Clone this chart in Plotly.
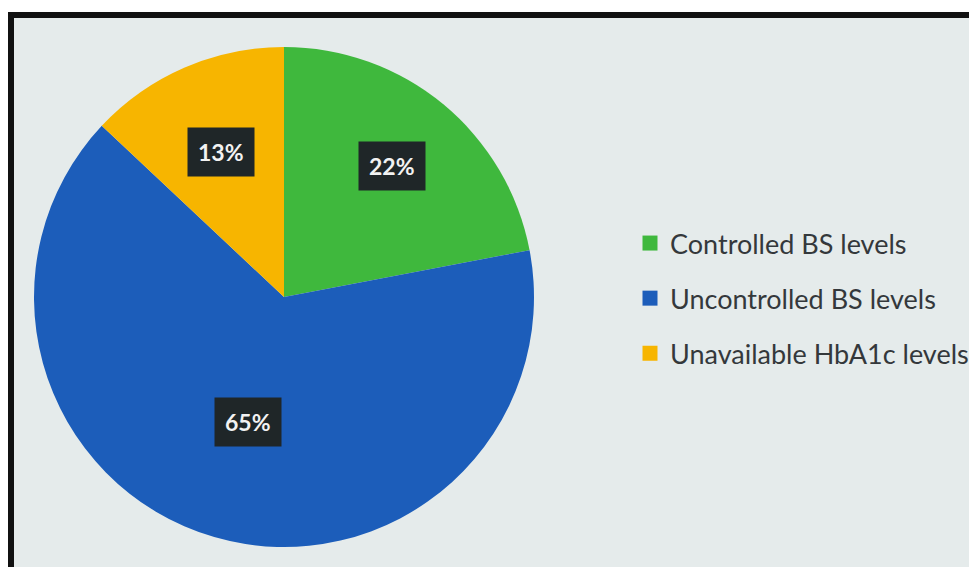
import math
import plotly.graph_objects as go

categories = ["Controlled BS levels", "Uncontrolled BS levels", "Unavailable HbA1c levels"]
values = [22, 65, 13]
colors = ["#3fb83d", "#1c5dba", "#f7b500"]
label_radius = [0.68, 0.52, 0.63]

W, H = 977, 567
OFF = 8  # page body margin offset
def px(x):
    return (x - OFF) / W
def py(y):
    return 1 - (y - OFF) / H

# pie geometry (screen pixels)
cx, cy, R = 284, 297, 250

fig = go.Figure()
fig.add_trace(go.Pie(
    labels=categories, values=values, sort=False, direction="clockwise",
    rotation=0, marker=dict(colors=colors, line=dict(width=0)),
    textinfo="none", hoverinfo="label+percent", showlegend=False,
    domain=dict(x=[px(cx - R), px(cx + R)], y=[py(cy + R), py(cy - R)]),
))

# legend entries via invisible scatter traces
for i, (c, col) in enumerate(zip(categories, colors)):
    fig.add_trace(go.Scatter(
        x=[None], y=[None], mode="markers", name=c, legendgroup=f"g{i}",
        marker=dict(symbol="square", size=15, color=col),
    ))

# data labels in dark boxes
total = sum(values)
cum = 0
for v, f in zip(values, label_radius):
    mid = (cum + v / 2) / total * 2 * math.pi
    cum += v
    lx = cx + f * R * math.sin(mid)
    ly = cy - f * R * math.cos(mid)
    fig.add_annotation(
        x=px(lx), y=py(ly), xref="paper", yref="paper",
        xanchor="center", yanchor="middle",
        text=f"<b>{round(v / total * 100)}%</b>", showarrow=False,
        font=dict(family="Lato, Open Sans, sans-serif", size=23, color="#f2f2f2"),
        bgcolor="#1f2628", borderpad=10,
    )

shapes = [
    dict(type="rect", xref="paper", yref="paper", x0=px(14), x1=1, y0=0, y1=py(18),
         fillcolor="#e5ebeb", line=dict(width=0), layer="below"),
    dict(type="rect", xref="paper", yref="paper", x0=px(8), x1=1, y0=py(18), y1=py(12),
         fillcolor="#111111", line=dict(width=0), layer="below"),
    dict(type="rect", xref="paper", yref="paper", x0=px(8), x1=px(14), y0=0, y1=py(12),
         fillcolor="#111111", line=dict(width=0), layer="below"),
]

fig.update_layout(
    width=W, height=H, margin=dict(l=0, r=0, t=0, b=0),
    paper_bgcolor="white", plot_bgcolor="rgba(0,0,0,0)",
    shapes=shapes,
    xaxis=dict(visible=False), yaxis=dict(visible=False),
    legend=dict(
        x=px(630), y=py(219), xanchor="left", yanchor="top",
        font=dict(family="Lato, Open Sans, sans-serif", size=27, color="#34383b"),
        bgcolor="rgba(0,0,0,0)", tracegroupgap=17, itemwidth=30,
    ),
)

fig.write_html("out.html")
